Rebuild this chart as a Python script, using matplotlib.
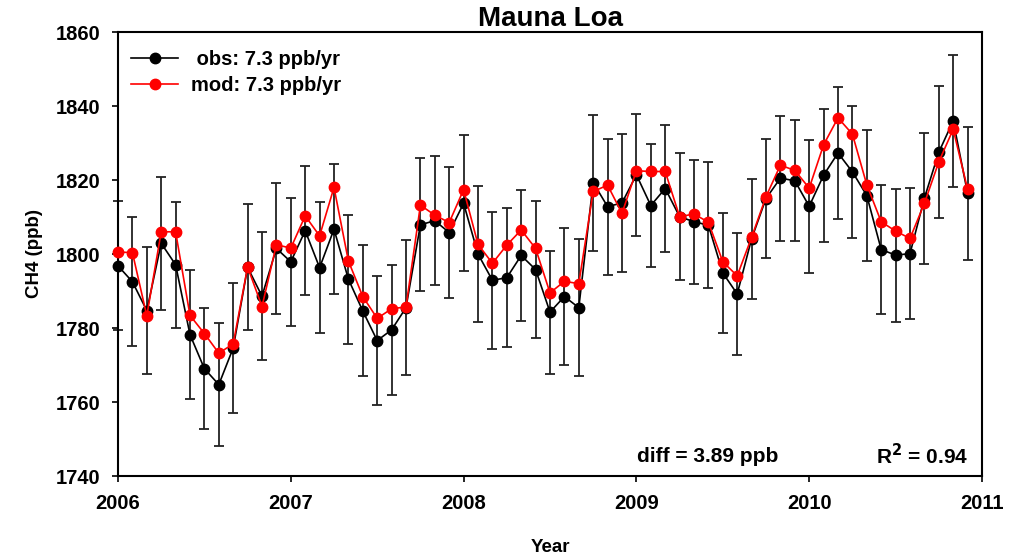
import numpy as np
import matplotlib
matplotlib.use("Agg")
import matplotlib.pyplot as plt

plt.rcParams['font.family'] = ['Liberation Sans', 'DejaVu Sans']
plt.rcParams['font.weight'] = 'bold'

start_year = 2006
obs = [1796.8, 1792.5, 1784.7, 1802.9, 1797.1, 1778.2, 1769.0, 1764.7, 1774.6, 1796.4, 1788.6, 1801.5,
       1797.9, 1806.3, 1796.3, 1806.7, 1793.2, 1784.6, 1776.6, 1779.5, 1785.5, 1807.9, 1809.0, 1805.8,
       1813.7, 1800.0, 1792.9, 1793.6, 1799.6, 1795.8, 1784.3, 1788.5, 1785.5, 1819.3, 1812.8, 1813.8,
       1821.4, 1813.1, 1817.7, 1810.1, 1808.7, 1807.8, 1794.9, 1789.2, 1804.1, 1815.0, 1820.5, 1819.8,
       1812.9, 1821.3, 1827.3, 1822.2, 1815.8, 1801.2, 1799.7, 1800.1, 1815.1, 1827.5, 1836.0, 1816.4]
mod = [1800.5, 1800.4, 1783.3, 1806.0, 1806.0, 1783.4, 1778.5, 1773.2, 1775.7, 1796.5, 1785.8, 1802.5,
       1801.6, 1810.3, 1804.9, 1818.0, 1798.1, 1788.5, 1782.6, 1785.2, 1785.7, 1813.2, 1810.5, 1808.5,
       1817.4, 1802.6, 1797.5, 1802.4, 1806.5, 1801.5, 1789.5, 1792.6, 1792.0, 1816.9, 1818.6, 1811.0,
       1822.5, 1822.3, 1822.3, 1810.1, 1810.8, 1808.6, 1797.9, 1794.1, 1804.5, 1815.5, 1824.0, 1822.6,
       1817.8, 1829.5, 1836.8, 1832.4, 1818.7, 1808.7, 1806.2, 1804.2, 1813.7, 1824.9, 1833.7, 1817.5]
obs_err = [17.4, 17.4, 17.2, 18.0, 17.0, 17.5, 16.4, 16.7, 17.5, 17.0, 17.3, 17.6,
           17.3, 17.5, 17.7, 17.5, 17.4, 17.7, 17.5, 17.6, 18.3, 18.0, 17.5, 17.7,
           18.4, 18.4, 18.5, 18.8, 17.8, 18.5, 16.6, 18.6, 18.5, 18.4, 18.4, 18.7,
           16.4, 16.7, 17.2, 17.2, 16.8, 17.0, 16.2, 16.5, 16.2, 16.2, 16.9, 16.3,
           18.0, 18.0, 17.8, 17.9, 17.7, 17.5, 18.0, 17.8, 17.7, 17.9, 17.8, 18.0]
obs_label = " obs: 7.3 ppb/yr"
mod_label = "mod: 7.3 ppb/yr"
title = "Mauna Loa"
xlabel = "Year"
ylabel = "CH4 (ppb)"
diff_text = "diff = 3.89 ppb"
r2_text = "R$^\\mathbf{2}$ = 0.94"
xticks = [2006, 2007, 2008, 2009, 2010, 2011]
yticks = [1740, 1760, 1780, 1800, 1820, 1840, 1860]

t = start_year + np.arange(len(obs)) / 12.0

fig = plt.figure(figsize=(10.12, 5.59), dpi=100)
ax = fig.add_axes([118/1012, (559-476)/559, 864/1012, 444/559])

ax.errorbar(t, obs, yerr=obs_err, fmt='none', ecolor='#222222', elinewidth=1.3,
            capsize=3.5, capthick=1.3, zorder=2, clip_on=False)
ax.plot(t, obs, '-o', color='black', lw=1.2, ms=7.5, mec='black', mfc='black',
        label=obs_label, zorder=3, clip_on=False)
ax.plot(t, mod, '-o', color='red', lw=1.2, ms=7.5, mec='red', mfc='red',
        label=mod_label, zorder=4, clip_on=False)

ax.set_xlim(2006, 2011)
ax.set_ylim(1740, 1860)
ax.set_xticks(xticks)
ax.set_yticks(yticks)
ax.tick_params(direction='out', length=4.3, width=1.2, labelsize=14.5)
ax.tick_params(axis='x', pad=8.8)
ax.tick_params(axis='y', pad=8.6)
for lab in ax.get_xticklabels() + ax.get_yticklabels():
    lab.set_fontweight('bold')
for s in ax.spines.values():
    s.set_linewidth(1.5)

ax.set_title(title, fontsize=20, fontweight='bold', pad=4.3)
ax.set_xlabel(xlabel, fontsize=13.5, fontweight='bold', labelpad=18.6)
ax.set_ylabel(ylabel, fontsize=13.5, fontweight='bold', labelpad=9)

leg = ax.legend(loc='upper left', bbox_to_anchor=(0.0058, 1 - 0.0234), frameon=False,
                handlelength=2.34, handletextpad=0.65, borderaxespad=0.0,
                labelspacing=0.35, prop={'weight': 'bold', 'size': 14.5})

ax.text(0.764, 0.045, diff_text, transform=ax.transAxes, ha='right', va='center',
        fontsize=15, fontweight='bold')
ax.text(0.984, 0.045, r2_text, transform=ax.transAxes, ha='right', va='center',
        fontsize=15, fontweight='bold')

fig.savefig("out.png", dpi=100)
